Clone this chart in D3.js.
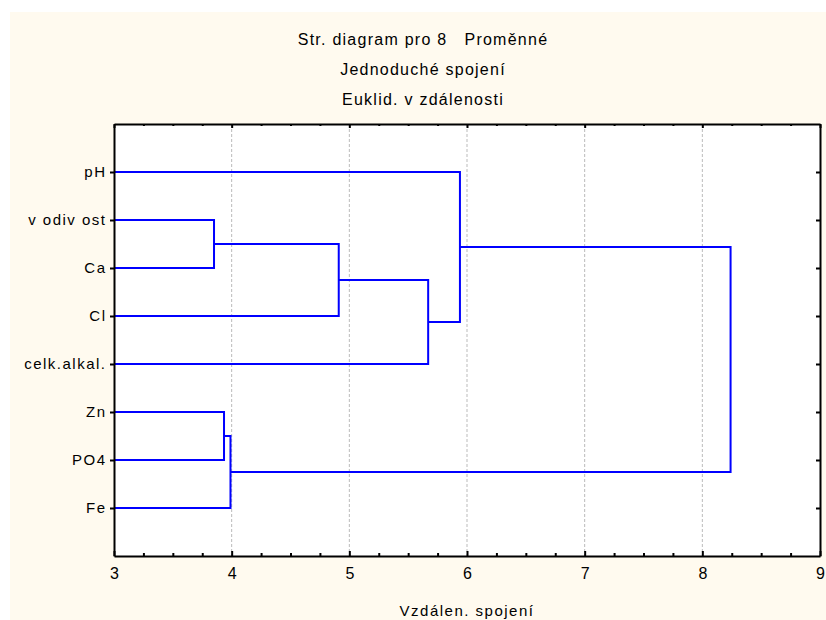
<!DOCTYPE html>
<html>
<head>
<meta charset="utf-8">
<script src="https://cdn.jsdelivr.net/npm/d3@7"></script>
<style>
  body { margin: 0; background: #ffffff; }
  text { font-family: "Liberation Sans", Arial, sans-serif; fill: #000; }
  .lbl { font-size: 15px; letter-spacing: 1.5px; white-space: pre; }
  .ttl { font-size: 16px; letter-spacing: 1.25px; white-space: pre; }
</style>
</head>
<body>
<div id="chart"></div>
<script>
let w = 826;
let h = 620;
let margin = { top: 124, right: 6, bottom: 64, left: 114 };

// leaves, top to bottom
let variables = ["pH", "v odiv ost", "Ca", "Cl", "celk.alkal.", "Zn", "PO4", "Fe"];
// merges: ids < 8 are leaves, 8+ are earlier merges
let mergeLeft = [1, 5, 8, 10, 0, 9, 12];
let mergeRight = [2, 6, 3, 4, 11, 7, 13];
let mergeDist = [3.85, 3.935, 4.91, 5.67, 5.94, 3.99, 8.24];

let titles = ["Str. diagram pro 8   Proměnné", "Jednoduché spojení", "Euklid. v zdálenosti"];
let xLabel = "Vzdálen. spojení";
let xTicks = [3, 4, 5, 6, 7, 8, 9];

let svg = d3.select("#chart")
            .append("svg")
            .attr("width", w)
            .attr("height", h);

svg.append("rect")
   .attr("x", 10).attr("y", 12)
   .attr("width", w - 10).attr("height", h - 12)
   .attr("fill", "#fffaef");

let x = d3.scaleLinear([3, 9], [margin.left, w - margin.right]);
let y = d3.scaleLinear([0, variables.length + 1], [margin.top, h - margin.bottom]);

svg.append("rect")
   .attr("x", x(3)).attr("y", y(0))
   .attr("width", x(9) - x(3)).attr("height", y(9) - y(0))
   .attr("fill", "#fff");

// grid
svg.append("g")
   .selectAll("line")
   .data(xTicks.slice(1, -1))
   .enter()
   .append("line")
   .attr("x1", (d) => x(d)).attr("x2", (d) => x(d))
   .attr("y1", y(0)).attr("y2", y(9))
   .attr("stroke", "#bbbbbb")
   .attr("stroke-dasharray", "3,2");

// node positions
let nodes = variables.map((v, i) => ({ x: 3, y: i + 1 }));
mergeDist.forEach((d, i) => {
  let a = nodes[mergeLeft[i]];
  let b = nodes[mergeRight[i]];
  nodes.push({ x: d, y: (a.y + b.y) / 2, a: a, b: b });
});

let links = svg.append("g")
               .attr("fill", "none")
               .attr("stroke", "#0000ff")
               .attr("stroke-width", 2);

nodes.filter((n) => n.a).forEach((n) => {
  let path = d3.path();
  path.moveTo(x(n.a.x), y(n.a.y));
  path.lineTo(x(n.x), y(n.a.y));
  path.lineTo(x(n.x), y(n.b.y));
  path.lineTo(x(n.b.x), y(n.b.y));
  links.append("path").attr("d", path.toString());
});

// axes
let minorTicks = d3.range(3, 9.01, 0.25);
let xAxis = d3.axisBottom(x).tickValues(minorTicks)
              .tickSize(-3).tickSizeOuter(0)
              .tickFormat((d) => (d % 1 === 0 ? d : ""));

let gx = svg.append("g")
            .attr("transform", `translate(0,${y(9)})`)
            .call(xAxis);
gx.selectAll(".tick line").attr("stroke-width", 2)
  .attr("y2", (d) => (d % 1 === 0 ? -5 : -3));
gx.selectAll(".tick text").attr("y", 12).attr("dy", "0.71em")
  .style("font-size", "16px").style("font-family", "Liberation Sans, Arial, sans-serif");

let gxTop = svg.append("g")
               .attr("transform", `translate(0,${y(0)})`)
               .call(d3.axisTop(x).tickValues(minorTicks).tickSize(-3).tickSizeOuter(0).tickFormat(""));
gxTop.selectAll(".tick line").attr("stroke-width", 2)
  .attr("y2", (d) => (d % 1 === 0 ? 4 : 2));

let yTicks = d3.range(1, variables.length + 1);
let gy = svg.append("g")
            .attr("transform", `translate(${x(3)},0)`)
            .call(d3.axisLeft(y).tickValues(yTicks).tickSize(4).tickSizeOuter(0)
                    .tickFormat((d) => variables[d - 1]));
gy.selectAll(".tick line").attr("stroke-width", 2);
gy.selectAll(".tick text").attr("x", -7.5).attr("class", "lbl")
  .style("font-family", "Liberation Sans, Arial, sans-serif").style("font-size", null);

let gyRight = svg.append("g")
                 .attr("transform", `translate(${x(9)},0)`)
                 .call(d3.axisRight(y).tickValues(yTicks).tickSize(-4).tickSizeOuter(0).tickFormat(""));
gyRight.selectAll(".tick line").attr("stroke-width", 2);

[gx, gxTop, gy, gyRight].forEach((g) => g.select(".domain").attr("stroke-width", 2));

// titles
svg.append("g")
   .selectAll("text")
   .data(titles)
   .enter()
   .append("text")
   .attr("class", "ttl")
   .attr("x", 423)
   .attr("y", (d, i) => 45 + i * 30)
   .attr("text-anchor", "middle")
   .text((d) => d);

svg.append("text")
   .attr("class", "lbl")
   .attr("x", (x(3) + x(9)) / 2)
   .attr("y", 616)
   .attr("text-anchor", "middle")
   .text(xLabel);
</script>
</body>
</html>
